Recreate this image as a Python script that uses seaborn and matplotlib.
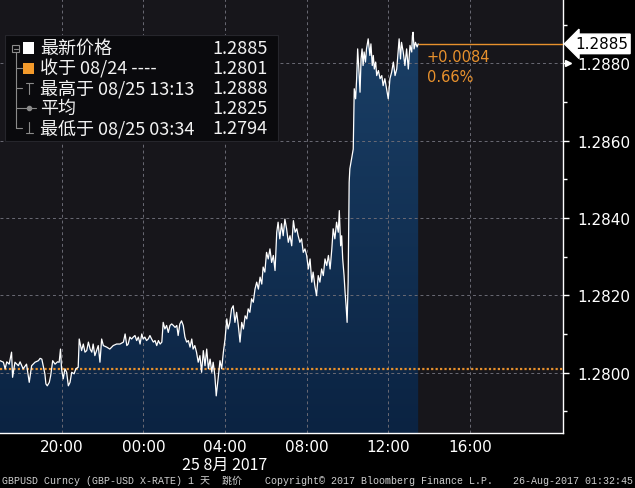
import matplotlib
matplotlib.use("Agg")
import matplotlib.pyplot as plt
import matplotlib.dates as mdates
import numpy as np
import pandas as pd
import seaborn as sns
from matplotlib.colors import LinearSegmentedColormap
from matplotlib.lines import Line2D
from matplotlib.patches import Rectangle

# ================= 数据 (GBPUSD 1天 跳价, 读图估计) =================
TIMES = [
    "16:58", "17:08", "17:13", "17:18", "17:25", "17:32", "17:35", "17:42", "17:52", "17:57",
    "18:06", "18:16", "18:24", "18:31", "18:41", "18:51", "18:56", "19:01", "19:05", "19:10",
    "19:13", "19:17", "19:23", "19:27", "19:33", "19:40", "19:47", "19:52", "19:56", "19:59",
    "20:04", "20:09", "20:14", "20:19", "20:24", "20:29", "20:36", "20:41", "20:48", "20:51",
    "20:58", "21:03", "21:08", "21:13", "21:18", "21:23", "21:28", "21:32", "21:37", "21:42",
    "21:47", "21:52", "21:57", "22:02", "22:12", "22:21", "22:31", "22:41", "22:51", "23:01",
    "23:06", "23:11", "23:15", "23:20", "23:25", "23:30", "23:35", "23:40", "23:45", "23:50",
    "23:55", "23:59", "00:04", "00:09", "00:14", "00:19", "00:24", "00:29", "00:34", "00:39",
    "00:44", "00:49", "00:54", "00:58", "01:03", "01:08", "01:13", "01:18", "01:23", "01:28",
    "01:33", "01:38", "01:42", "01:47", "01:52", "01:57", "02:02", "02:07", "02:12", "02:17",
    "02:22", "02:26", "02:31", "02:36", "02:41", "02:46", "02:51", "02:56", "03:01", "03:06",
    "03:11", "03:16", "03:21", "03:25", "03:30", "03:34", "03:40", "03:45", "03:50", "03:55",
    "04:00", "04:05", "04:09", "04:14", "04:19", "04:24", "04:29", "04:34", "04:39", "04:44",
    "04:49", "04:54", "04:59", "05:04", "05:08", "05:13", "05:18", "05:23", "05:28", "05:33",
    "05:38", "05:43", "05:48", "05:52", "05:57", "06:02", "06:07", "06:12", "06:17", "06:22",
    "06:27", "06:32", "06:36", "06:41", "06:46", "06:51", "06:56", "07:01", "07:06", "07:11",
    "07:16", "07:21", "07:26", "07:31", "07:35", "07:40", "07:45", "07:50", "07:55", "08:00",
    "08:05", "08:10", "08:15", "08:19", "08:24", "08:29", "08:34", "08:39", "08:44", "08:49",
    "08:54", "08:59", "09:04", "09:09", "09:14", "09:18", "09:23", "09:28", "09:33", "09:36",
    "09:40", "09:43", "09:46", "09:50", "09:53", "09:56", "09:59", "10:02", "10:05", "10:07",
    "10:12", "10:17", "10:20", "10:24", "10:27", "10:30", "10:34", "10:37", "10:40", "10:43",
    "10:46", "10:49", "10:53", "10:56", "11:01", "11:06", "11:09", "11:13", "11:16", "11:19",
    "11:23", "11:26", "11:31", "11:36", "11:41", "11:45", "11:50", "11:55", "12:00", "12:05",
    "12:10", "12:15", "12:20", "12:25", "12:29", "12:32", "12:36", "12:39", "12:44", "12:49",
    "12:54", "12:59", "13:04", "13:09", "13:11", "13:13", "13:16", "13:20", "13:25", "13:28",
]
PRICES = [
    1.28031, 1.28027, 1.28010, 1.28028, 1.28022, 1.28053, 1.27988, 1.28027, 1.28018, 1.28028,
    1.28010, 1.28022, 1.27975, 1.28018, 1.28027, 1.28031, 1.28037, 1.28035, 1.28018, 1.27997,
    1.27971, 1.27966, 1.27975, 1.27992, 1.28031, 1.28022, 1.28028, 1.28027, 1.28061, 1.28010,
    1.27984, 1.28010, 1.28001, 1.27966, 1.27975, 1.28001, 1.27997, 1.28010, 1.28014, 1.28087,
    1.28057, 1.28074, 1.28053, 1.28057, 1.28079, 1.28061, 1.28053, 1.28074, 1.28044, 1.28057,
    1.28070, 1.28027, 1.28087, 1.28070, 1.28066, 1.28061, 1.28070, 1.28074, 1.28074, 1.28079,
    1.28100, 1.28070, 1.28074, 1.28092, 1.28087, 1.28092, 1.28096, 1.28083, 1.28092, 1.28074,
    1.28100, 1.28087, 1.28092, 1.28083, 1.28087, 1.28096, 1.28087, 1.28079, 1.28083, 1.28070,
    1.28083, 1.28074, 1.28079, 1.28130, 1.28113, 1.28122, 1.28104, 1.28122, 1.28126, 1.28122,
    1.28117, 1.28122, 1.28096, 1.28126, 1.28134, 1.28122, 1.28092, 1.28079, 1.28083, 1.28066,
    1.28087, 1.28061, 1.28070, 1.28053, 1.28027, 1.28044, 1.28001, 1.28057, 1.28018, 1.28061,
    1.28010, 1.28035, 1.28001, 1.28027, 1.27992, 1.27940, 1.27988, 1.28031, 1.28010, 1.28053,
    1.28087, 1.28139, 1.28113, 1.28130, 1.28165, 1.28173, 1.28130, 1.28156, 1.28122, 1.28079,
    1.28130, 1.28113, 1.28147, 1.28139, 1.28165, 1.28156, 1.28191, 1.28182, 1.28216, 1.28234,
    1.28216, 1.28247, 1.28229, 1.28273, 1.28260, 1.28311, 1.28294, 1.28320, 1.28285, 1.28303,
    1.28264, 1.28363, 1.28389, 1.28346, 1.28385, 1.28354, 1.28397, 1.28372, 1.28337, 1.28354,
    1.28328, 1.28393, 1.28363, 1.28372, 1.28354, 1.28337, 1.28346, 1.28311, 1.28320, 1.28303,
    1.28268, 1.28294, 1.28234, 1.28260, 1.28225, 1.28199, 1.28251, 1.28234, 1.28268, 1.28251,
    1.28294, 1.28277, 1.28303, 1.28268, 1.28320, 1.28372, 1.28346, 1.28389, 1.28363, 1.28419,
    1.28328, 1.28354, 1.28294, 1.28251, 1.28208, 1.28173, 1.28130, 1.28234, 1.28492, 1.28527,
    1.28553, 1.28578, 1.28734, 1.28708, 1.28760, 1.28837, 1.28777, 1.28725, 1.28811, 1.28837,
    1.28794, 1.28829, 1.28803, 1.28837, 1.28863, 1.28820, 1.28850, 1.28794, 1.28820, 1.28785,
    1.28803, 1.28768, 1.28781, 1.28760, 1.28768, 1.28742, 1.28760, 1.28734, 1.28708, 1.28760,
    1.28777, 1.28803, 1.28768, 1.28785, 1.28829, 1.28863, 1.28811, 1.28854, 1.28829, 1.28794,
    1.28837, 1.28785, 1.28846, 1.28829, 1.28871, 1.28880, 1.28837, 1.28854, 1.28842, 1.28850,
]

PREV_CLOSE = 1.2801
LAST_PRICE = 1.2885
Y_TICKS = [1.2800, 1.2820, 1.2840, 1.2860, 1.2880]
Y_MINOR = [1.2790, 1.2810, 1.2830, 1.2850, 1.2870, 1.2890]
X_TICKS = ["2017-08-24 20:00", "2017-08-25 00:00", "2017-08-25 04:00",
           "2017-08-25 08:00", "2017-08-25 12:00", "2017-08-25 16:00"]
X_MINOR = ["2017-08-24 18:00", "2017-08-24 22:00", "2017-08-25 02:00",
           "2017-08-25 06:00", "2017-08-25 10:00", "2017-08-25 14:00"]
CHANGE_TXT = ["+0.0084", "0.66%"]
LEGEND_LABELS = ["最新价格", "收于 08/24 ----", "最高于 08/25 13:13", "平均", "最低于 08/25 03:34"]
LEGEND_VALUES = ["1.2885", "1.2801", "1.2888", "1.2825", "1.2794"]
DATE_LABEL = "25 8月 2017"
FOOTER_LEFT = "GBPUSD Curncy (GBP-USD X-RATE) 1 天  跳价"
FOOTER_MID = "Copyright\u00a9 2017 Bloomberg Finance L.P."
FOOTER_RIGHT = "26-Aug-2017 01:32:45"

# ================= 样式 =================
BG_PLOT = "#17161b"
ORANGE = "#e8912d"
GRID = "#6a6a74"
W, H = 635, 489

sns.set_style("dark")
plt.rcParams["font.family"] = ["DejaVu Sans", "Noto Sans CJK SC"]
plt.rcParams["axes.unicode_minus"] = False


def to_ts(s):
    h, m = map(int, s.split(":"))
    day = 24 if h >= 16 else 25
    return pd.Timestamp(2017, 8, day, h, m)


def fx(px):
    return px / W


def fy(py):
    return 1 - py / H


df = pd.DataFrame({"time": [to_ts(t) for t in TIMES], "price": PRICES})

fig = plt.figure(figsize=(W / 100, H / 100), dpi=100, facecolor="black")
ax = fig.add_axes([0, fy(434), fx(563), 434 / H])
ax.set_facecolor(BG_PLOT)

x0 = pd.Timestamp("2017-08-24 16:58")
x1 = pd.Timestamp("2017-08-25 20:34")
y0, y1 = 1.27844, 1.28966

# 面积渐变填充
poly = ax.fill_between(df["time"], df["price"], y0, facecolor="none", edgecolor="none")
cmap = LinearSegmentedColormap.from_list("navy", ["#0b2342", "#1a3f66"])
grad = np.linspace(0, 1, 256).reshape(-1, 1)
im = ax.imshow(grad, extent=[mdates.date2num(df["time"].iloc[0]), mdates.date2num(df["time"].iloc[-1]),
                             y0, df["price"].max()],
               origin="lower", aspect="auto", cmap=cmap, zorder=0.5)
im.set_clip_path(poly.get_paths()[0], transform=ax.transData)

# 价格线
sns.lineplot(data=df, x="time", y="price", color="white", linewidth=0.9, ax=ax, zorder=3)

# 前收盘 (橙色点线) 与最新价
ax.axhline(PREV_CLOSE, color=ORANGE, linestyle=(0, (1, 1)), linewidth=1.6, zorder=2.8)
ax.hlines(LAST_PRICE, df["time"].iloc[-1], x1, color=ORANGE, linewidth=1.0, zorder=2.8)

ax.set_xlim(x0, x1)
ax.set_ylim(y0, y1)
ax.set_xlabel("")
ax.set_ylabel("")

# 坐标轴
for side in ["left", "top"]:
    ax.spines[side].set_visible(False)
for side in ["bottom", "right"]:
    ax.spines[side].set_visible(True)
    ax.spines[side].set_color("white")
    ax.spines[side].set_linewidth(1.0)

ax.set_xticks([pd.Timestamp(t) for t in X_TICKS])
ax.set_xticks([pd.Timestamp(t) for t in X_MINOR], minor=True)
ax.xaxis.set_major_formatter(mdates.DateFormatter("%H:%M"))
ax.tick_params(axis="x", which="major", length=0, colors="white", labelsize=11, pad=4)
ax.tick_params(axis="x", which="minor", length=4, width=1, colors="white", direction="out")

ax.yaxis.tick_right()
ax.set_yticks(Y_TICKS)
ax.set_yticks(Y_MINOR, minor=True)
ax.yaxis.set_major_formatter(matplotlib.ticker.FormatStrFormatter("%.4f"))
ax.tick_params(axis="y", which="major", length=4, width=1, colors="white", labelsize=11, pad=6)
ax.tick_params(axis="y", which="minor", length=3, width=1, colors="white")

ax.grid(True, which="major", color=GRID, linestyle=(0, (3, 3)), linewidth=0.7)
ax.set_axisbelow("line")

ytr = ax.get_yaxis_transform()
ax.plot([1.008], [Y_TICKS[-1]], marker=">", markersize=5, color="white",
        transform=ytr, clip_on=False, zorder=5)
ax.text(1.021, LAST_PRICE, f"{LAST_PRICE:.4f}", transform=ytr, ha="left", va="center",
        fontsize=11, color="black", zorder=6,
        bbox=dict(boxstyle="larrow,pad=0.15", fc="white", ec="white"))

# 涨跌注释
fig.text(fx(427), fy(58), CHANGE_TXT[0], color=ORANGE, fontsize=10.5, va="center", ha="left")
fig.text(fx(427), fy(77), CHANGE_TXT[1], color=ORANGE, fontsize=10.5, va="center", ha="left")

# 日期标签
ax.text(pd.Timestamp("2017-08-25 04:00"), -0.072, DATE_LABEL, transform=ax.get_xaxis_transform(),
        ha="center", va="center", fontsize=11.5, color="white",
        family=["Noto Sans CJK SC", "DejaVu Sans"])

# 图例框
fig.add_artist(Rectangle((fx(5), fy(142)), fx(278) - fx(5), fy(36) - fy(142),
                         transform=fig.transFigure, facecolor="#0a0a0d", edgecolor="#26262c",
                         linewidth=0.8, zorder=10))
rows = [49, 69, 89, 109, 129]
tree = "#8a8a8a"
lk = dict(transform=fig.transFigure, color=tree, linewidth=0.8, zorder=11)
fig.add_artist(Rectangle((fx(12), fy(53)), fx(7), 7 / H, transform=fig.transFigure,
                         facecolor="none", edgecolor=tree, linewidth=0.8, zorder=11))
fig.add_artist(Line2D([fx(13.5), fx(17.5)], [fy(49.5), fy(49.5)], **lk))
fig.add_artist(Line2D([fx(15.5), fx(15.5)], [fy(53), fy(129)], **lk))
for r in rows[1:]:
    fig.add_artist(Line2D([fx(15.5), fx(22)], [fy(r), fy(r)], **lk))
# 方块
fig.add_artist(Rectangle((fx(23), fy(rows[0] + 5.5)), fx(11), 11 / H, transform=fig.transFigure,
                         facecolor="white", edgecolor="none", zorder=11))
fig.add_artist(Rectangle((fx(23), fy(rows[1] + 5.5)), fx(11), 11 / H, transform=fig.transFigure,
                         facecolor="#f39a2b", edgecolor="none", zorder=11))
# 最高
fig.add_artist(Line2D([fx(29), fx(29)], [fy(rows[2] - 5), fy(rows[2] + 6)], **lk))
fig.add_artist(Line2D([fx(25.5), fx(32.5)], [fy(rows[2] - 5), fy(rows[2] - 5)], **lk))
# 平均
fig.add_artist(Line2D([fx(22), fx(36)], [fy(rows[3]), fy(rows[3])], **lk))
fig.add_artist(Line2D([fx(29)], [fy(rows[3])], marker="o", markersize=3, markerfacecolor=tree,
                      markeredgecolor=tree, transform=fig.transFigure, zorder=11))
# 最低
fig.add_artist(Line2D([fx(29), fx(29)], [fy(rows[4] - 6), fy(rows[4] + 5)], **lk))
fig.add_artist(Line2D([fx(25.5), fx(32.5)], [fy(rows[4] + 5), fy(rows[4] + 5)], **lk))

cjk = ["Noto Sans CJK SC", "DejaVu Sans"]
for r, lab, val in zip(rows, LEGEND_LABELS, LEGEND_VALUES):
    fig.text(fx(40), fy(r), lab, color="#f2f2f2", fontsize=13, va="center", ha="left",
             family=cjk, zorder=12)
    fig.text(fx(268), fy(r), val, color="#f2f2f2", fontsize=13, va="center", ha="right",
             family=cjk, zorder=12)

# 页脚
mono = ["Liberation Mono", "Noto Sans CJK SC"]
fig.text(fx(2), fy(481), FOOTER_LEFT, color="#cfcfcf", fontsize=7.2, va="center", ha="left", family=mono)
fig.text(fx(265), fy(481), FOOTER_MID, color="#cfcfcf", fontsize=7.2, va="center", ha="left", family=mono)
fig.text(fx(633), fy(481), FOOTER_RIGHT, color="#cfcfcf", fontsize=7.2, va="center", ha="right", family=mono)

fig.savefig("out.png", dpi=100, facecolor=fig.get_facecolor())
